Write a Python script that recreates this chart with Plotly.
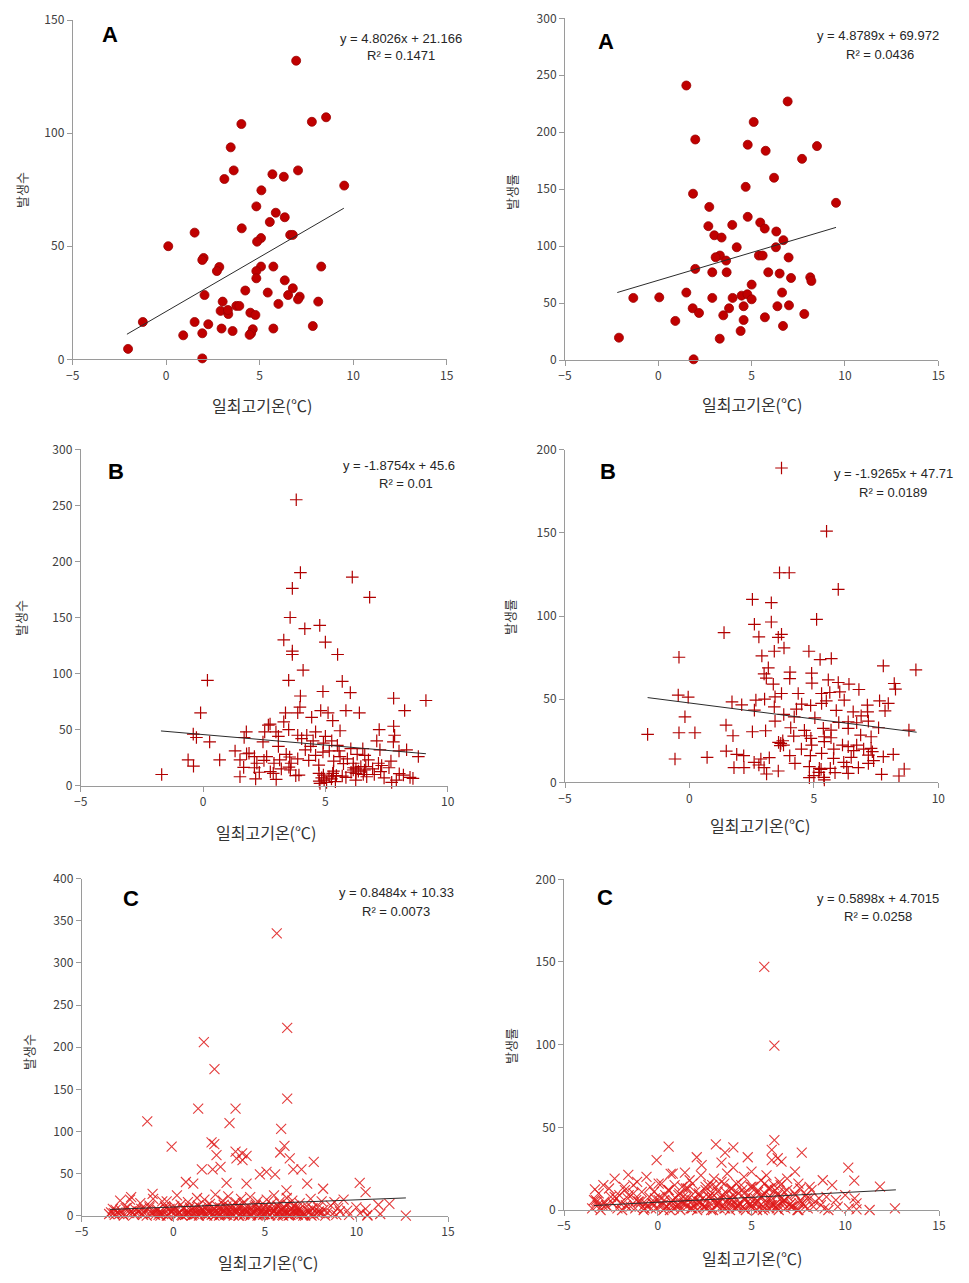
import plotly.graph_objects as go

W, H = 969, 1283

# ---------------- data ----------------
# Panel A (left): 발생수
a1_x = [6.95,4.02,7.79,8.55,3.45,3.61,7.05,3.11,5.68,6.29,9.52,5.09,4.82,5.86,5.54,6.34,4.04,1.52,6.63,6.77,
        0.11,5.07,4.86,2.0,1.93,2.84,2.71,5.07,4.82,5.73,8.29,4.82,6.34,4.23,5.43,6.77,6.52,2.05,7.14,7.05,
        6.0,8.13,3.02,3.75,3.91,2.91,3.32,3.30,4.5,4.77,-1.25,1.52,2.25,7.84,5.73,2.96,3.55,4.63,4.54,4.46,
        0.91,1.93,-2.04,1.93]
a1_y = [132,104,105,107,93.7,83.5,83.5,79.7,81.8,80.7,76.8,74.7,67.6,64.8,60.7,62.8,57.9,56,55,55,
        50,53.6,52,44.8,43.9,40.8,39,41,39,41,41,35.8,34.9,30.4,29.5,31.4,28.4,28.4,27.7,26.5,
        24.5,25.5,25.5,23.6,23.6,21.4,20,21.8,20.6,19.6,16.5,16.5,15.5,14.7,13.6,13.6,12.5,13.3,11.5,10.8,
        10.6,11.5,4.6,0.4]

# Panel A (right): 발생률
a2_x = [1.5,6.93,5.11,1.98,4.79,8.5,5.75,7.7,6.2,4.68,1.86,9.52,2.73,4.79,5.46,2.68,3.96,5.7,6.32,3.0,
        3.39,6.7,4.2,6.3,3.3,3.07,5.39,5.59,6.98,3.63,1.98,2.89,3.66,5.89,6.5,7.11,8.14,8.2,5.0,1.5,
        6.63,-1.34,0.05,2.89,3.98,4.46,4.77,5.0,4.57,6.38,7.0,1.84,2.18,3.79,3.48,7.82,5.71,0.91,4.57,6.68,
        4.41,-2.11,3.29,1.89]
a2_y = [241,227,209,193.6,189,187.8,183.7,176.6,160,152,146,138,134.4,125.7,120.7,117.5,118.6,115.4,112.8,109.5,
        107.5,105.2,99,99,91.7,90.2,91.7,91.7,90,87.3,80,77,77,77,75.9,72,72.6,69.4,66.2,59.2,
        59.2,54.5,55,54.5,54.5,56.5,57.7,53.3,47.2,47.2,48,45.4,41.3,45.4,39.2,40.4,37.5,34.3,35.1,29.9,
        25.5,19.6,18.7,0.6]

# Panel B (left): 발생수
b1_x = [3.81,3.98,6.10,3.65,6.81,3.56,4.16,4.77,3.30,3.65,3.65,5.0,5.50,4.09,0.18,3.50,5.69,3.98,4.90,6.02,
        7.79,9.11,-0.1,8.24,5.84,6.39,4.81,5.11,3.37,3.87,3.96,5.30,4.44,3.30,2.67,2.74,7.79,7.2,1.77,2.98,
        3.50,4.6,5.6,-0.4,-0.27,0.27,1.68,2.52,2.45,3.08,3.08,4.24,3.87,7.1,7.78,7.83,5.26,4.92,4.03,1.31,
        1.78,1.88,4.18,5.49,5.56,5.16,6.04,6.53,6.61,7.23,8.32,8.01,8.8,-0.61,0.68,-0.39,1.51,2.1,2.49,3.13,
        3.54,3.87,4.32,4.73,5.34,5.74,6.14,6.76,7.17,7.68,1.66,2.1,2.75,2.87,3.51,3.57,3.79,4.74,4.92,5.33,
        5.69,6.14,6.25,6.65,6.93,7.26,8.02,8.46,-1.69,1.51,2.15,2.99,3.92,4.78,5.41,5.84,6.24,6.69,7.71,8.58,
        8.19,4.75,4.85,4.95,5.05,5.15,5.25,5.3,5.45,6.05,6.15,6.25,6.35,6.45,6.55,6.6,2.2,2.3,2.6,2.9,
        3.2,3.4,3.6,7.0,7.4,7.6,7.9,7.3,4.4,4.6,4.9,5.0,4.5,5.6,5.9,6.3]
b1_y = [255,190,186,176,168,150,140,143,130,120,117,128,117,103,94,94,93,80,84,83,
        78,76,65,67,67,65,67,65,65,65,70,58,61,57,54,55,53,50,48,48,
        50,48,49,46,43,39,43,48,39,44,35,45,45,40,39,45,40,38,42,31,
        28.5,29,32,36,31,31,33,33,27,32,32,31,26,23,23,17.5,23,26,22.6,23,
        25.6,24,22.6,18.4,22,19.6,20,23,20,22,16.3,16,12.5,11,16.6,14,9,11,9.5,13,
        8.6,14,15,17,15,12.5,10.7,7.4,10,8,6,5.6,9.5,2,3.6,7.4,5,8,3,6.5,
        9.5,4,7,5,3,8,6,11,9,12,16,11,13,17,10,14,20,12,26,20,
        15,28,20,10,7,16,5,18,35,27,30,44,40,26,24,28]

# Panel B (right): 발생률
b2_x = [3.70,5.51,3.62,4.01,5.98,2.53,3.29,5.11,2.61,3.29,1.39,2.79,3.57,3.70,3.80,3.41,4.80,-0.42,2.91,5.25,
        5.70,7.79,9.1,3.17,3.0,4.04,4.91,3.09,4.03,4.92,5.58,5.98,6.41,6.81,8.23,8.28,3.37,3.70,4.37,3.44,
        5.31,5.64,6.04,-0.45,-0.05,1.71,2.1,2.67,3.02,2.61,4.51,4.87,5.31,6.22,7.15,7.64,7.99,7.86,5.90,6.58,
        7.16,3.41,3.79,4.21,5.04,-0.18,3.44,7.19,6.38,6.72,1.47,4.07,4.62,5.38,5.69,7.6,8.82,6.38,-1.68,-0.42,
        0.22,2.53,3.06,1.75,4.19,4.88,5.42,5.69,6.88,7.30,3.67,3.58,3.78,4.91,5.42,6.15,6.38,6.72,7.30,-0.58,
        0.71,1.48,1.90,2.18,2.87,3.21,4.03,4.86,5.31,5.79,7.19,7.79,8.19,7.35,1.79,2.19,3.0,3.57,4.82,5.22,
        5.29,5.85,6.32,6.79,7.19,7.72,8.63,8.42,4.82,5.42,6.38,2.79,5.66,4.24,5.0,5.2,5.4,6.2,6.5,6.6,
        3.65,3.75,4.5,4.7,7.0,7.4,2.6,3.1,5.8,6.0,4.3,5.5,6.9]
b2_y = [189,151,126,126,116,110,108,98,95,96.4,90,87.4,87.2,89,80.8,78.8,78.8,75.2,76,73.8,
        74.4,70,67.6,68.8,65.2,66.2,65.6,62.6,62.4,59.6,61.6,60,59,55.8,59.4,56,59,53.4,53.4,51.4,
        53.4,54,54.4,52.4,51.2,48.4,46.6,49.4,50,43.4,47,46.2,47.4,49.4,46.4,49,47.4,43,43.2,42.4,
        42.4,45.4,40.8,39.4,38.8,39.4,36.8,36.8,36.4,35.8,34.4,32.8,31.2,32.4,31.4,32.8,31.4,32.4,28.8,29.8,
        29.8,30.4,31,28,27.8,26.4,27.4,26.8,28.4,27.4,23.4,24,22.4,22.4,24.4,22.4,21.4,22.4,20.4,14,
        15,18.8,16.8,16,14,14.8,16,16,17.4,14.4,16.4,15.4,16.8,18.4,8.8,8.8,8.8,6.8,9.4,8.4,
        7.8,5.8,9.4,8.8,11.4,4.8,8,3.8,2.8,1.4,5.4,10.4,8.4,11.4,4,6,3,12,15,19,
        22,25,20,28,20,13,12,5,20,36,44,49,40]

# Panel C: shared x positions of the dense low-value cloud
c_blob_x = [-3.5,-3.2,-3.05,-2.7,-2.4,-2.15,-1.9,-1.7,-1.45,-1.2,-1.0,-0.75,-0.55,-0.3,-0.1,0.15,0.3,0.5,0.7,0.85,
            1.05,1.2,1.4,1.55,1.75,1.9,2.1,2.25,2.45,2.6,2.8,2.95,3.15,3.3,3.5,3.65,3.85,4.0,4.2,4.35,
            4.55,4.7,4.9,5.05,5.25,5.4,5.6,5.75,5.95,6.1,6.3,6.45,6.65,6.8,7.0,7.2,7.45,7.7,8.0,8.3,
            8.7,9.1,9.6,10.2,10.6,11.3,
            -3.3,-2.85,-2.5,-2.05,-1.6,-1.3,-0.9,-0.45,-0.2,0.05,0.4,0.6,0.95,1.15,1.35,1.6,1.85,2.0,2.2,2.4,
            2.55,2.75,2.9,3.1,3.25,3.45,3.6,3.8,3.95,4.1,4.3,4.5,4.65,4.85,5.0,5.2,5.35,5.55,5.7,5.9,
            6.05,6.25,6.4,6.6,6.75,6.95,7.3,7.6,7.9,8.2,8.6,9.0,9.5,10.0,10.5,
            -2.9,-2.3,-1.8,-1.1,-0.6,0.2,0.8,1.3,1.7,2.3,2.7,3.0,3.4,3.7,4.2,4.6,5.1,5.5,5.8,6.2,
            6.5,6.9,7.5,8.1,8.8,9.3,
            -0.8,-0.35,0.25,0.65,1.0,1.45,1.8,2.15,2.5,2.85,3.2,3.55,3.9,4.25,4.6,4.95,5.3,5.65,6.0,6.35,
            6.7,7.1,7.5,7.85,
            -3.4,-3.15,-2.95,-2.6,-2.3,-2.0,-1.75,-1.55,-1.3,-1.05,-0.85,-0.65,-0.4,-0.15,0.05,0.35,0.55,0.75,0.9,1.1,
            1.3,1.5,1.65,1.85,2.05,2.2,2.35,2.55,2.7,2.9,3.05,3.2,3.4,3.55,3.75,3.9,4.05,4.25,4.45,4.6,
            4.8,4.95,5.15,5.35,5.5,5.7,5.85,6.0,6.2,6.4,6.55,6.75,6.9,7.1,7.35,7.6,7.95,8.4,
            -3.25,-2.75,-2.2,-1.65,-1.15,-0.7,-0.25,0.1,0.45,0.8,1.15,1.5,1.85,2.2,2.55,2.9,3.25,3.6,3.95,4.3,
            4.65,5.0,5.35,5.7,6.05,6.4,6.75,7.15,7.55,8.1,8.9]

# Panel C (left): 발생수
c1_out_x = [5.65,6.22,1.67,2.25,6.22,1.36,3.4,-1.42,3.07,5.89,-0.09,2.09,2.24,6.07,5.84,3.4,3.76,4.0,3.45,2.36,
            3.78,6.36,7.67,1.56,2.15,2.58,4.73,5.09,5.56,6.55,7.0,10.18,0.69,1.09,2.91,4.0,7.31,8.18,6.18,10.5,
            -1.13,-2.36,-0.36,11.8,11.2,12.7,10.6]
c1_out_y = [335,223,206,174,139,127,127,112,110,103,82,87,85,83,75,76,74,71,68,72,
            66,68,64,55,55,58,49,52,49,55,55,39,40,38,39,38,38,32,30,28,
            26,19,17,14,13,0,1]
c1_blob_y = [2,1,4,0,3,1,5,2,0,3,1,4,2,0,5,1,3,0,2,4,
             1,6,0,3,2,5,1,0,4,2,6,1,3,0,5,2,1,4,0,3,
             6,2,1,5,0,3,2,4,1,6,0,3,5,1,2,0,4,1,3,0,
             2,5,1,3,0,2,
             8,6,10,7,9,12,6,11,8,7,13,9,6,10,12,8,7,14,9,11,
             6,13,8,10,12,7,9,15,6,11,8,13,10,7,12,9,14,6,11,8,
             10,13,7,12,9,6,11,8,10,7,12,9,6,10,8,
             18,22,15,20,17,24,16,21,19,25,18,23,16,20,22,17,19,24,16,21,
             18,15,20,17,16,19,
             1,0,2,1,0,3,1,2,0,1,3,0,2,1,0,2,1,3,0,1,
             2,0,1,3,
             4,7,2,9,5,3,8,6,10,4,7,3,9,5,11,4,8,2,10,6,
             3,9,5,12,4,7,2,10,6,11,3,8,5,12,4,9,6,2,11,7,
             4,10,3,8,6,12,5,9,2,7,11,4,8,3,6,9,5,4,
             3,2,4,1,3,0,2,4,1,3,2,5,0,3,1,4,2,0,3,5,
             1,2,4,0,3,1,5,2,0,3,1]

# Panel C (right): 발생률
c2_out_x = [5.68,6.22,6.22,3.1,0.58,4.03,7.68,3.59,6.08,-0.06,2.08,4.8,3.4,6.08,6.4,6.6,10.16,2.34,4.03,-1.57,
            0.69,1.45,5.0,7.32,10.48,-3.35,11.85,12.65,10.6]
c2_out_y = [147,99.4,42.3,39.7,38.3,37.9,34.7,34.7,36.3,30.2,31.9,31.9,28.6,30.2,31.3,29.2,25.6,27.2,25.6,21.2,
            21.8,22.6,23.2,23.2,17.7,12.5,14.1,1,0.4]
c2_blob_y = [1,3,0,2,4,1,0,3,2,1,5,0,2,4,1,3,0,2,5,1,
             3,0,4,2,1,3,0,5,2,1,4,0,3,1,2,5,0,3,1,4,
             2,0,3,1,5,2,0,4,1,3,2,0,5,1,3,2,0,4,1,2,
             3,0,2,1,4,0,
             6,5,8,9,7,10,5,8,11,6,9,12,7,10,8,13,6,11,9,7,
             12,8,10,14,6,9,11,7,13,8,10,12,6,9,14,7,11,8,10,13,
             6,12,9,7,11,8,10,6,9,12,7,8,6,9,7,
             15,19,14,17,20,16,22,14,18,21,15,19,17,22,16,20,14,18,21,15,
             17,19,16,14,18,15,
             2,1,3,0,2,4,1,3,2,0,4,1,3,2,1,4,0,2,3,1,
             4,2,0,2,
             6,10,3,13,8,4,12,9,15,5,11,4,14,7,16,6,12,3,15,9,
             4,13,7,16,6,10,3,14,8,15,5,11,7,16,6,13,9,3,15,10,
             5,14,4,12,8,16,7,13,3,10,15,6,12,4,9,13,7,5,
             5,3,7,2,6,1,4,8,2,6,3,7,1,5,2,8,4,1,6,3,
             7,2,5,1,8,3,6,2,4,7,1]

# trendlines (from the printed equations) and their x extent
slopes = [4.8026, 4.8789, -1.8754, -1.9265, 0.8484, 0.5898]
intercepts = [21.166, 69.972, 45.6, 47.71, 10.33, 4.7015]
trend_x0 = [-2.1, -2.2, -1.72, -1.68, -3.45, -3.4]
trend_x1 = [9.5, 9.52, 9.11, 9.13, 12.7, 12.7]
eq_text = ["y = 4.8026x + 21.166", "y = 4.8789x + 69.972", "y = -1.8754x + 45.6",
           "y = -1.9265x + 47.71", "y = 0.8484x + 10.33", "y = 0.5898x + 4.7015"]
r2_text = ["R² = 0.1471", "R² = 0.0436", "R² = 0.01", "R² = 0.0189", "R² = 0.0073", "R² = 0.0258"]
panel_letters = ["A", "A", "B", "B", "C", "C"]
y_titles = ["발생수", "발생률", "발생수", "발생률", "발생수", "발생률"]
x_title = "일최고기온(℃)"
x_ranges = [[-5, 15], [-5, 15], [-5, 10], [-5, 10], [-5, 15], [-5, 15]]
y_ranges = [[0, 150], [0, 300], [0, 300], [0, 200], [0, 400], [0, 200]]

# ---------------- layout geometry (page pixels) ----------------
OFF = 8  # default page body margin
boxes = [(72.7, 446.7, 20.0, 359.3), (565.0, 938.3, 18.3, 360.0),
         (80.7, 447.7, 449.3, 785.7), (565.0, 938.3, 449.7, 782.3),
         (81.7, 448.0, 878.7, 1215.7), (564.0, 939.0, 879.3, 1210.0)]
letter_pos = [(110, 34), (606, 41), (116, 471), (608, 471), (131, 898), (605, 897)]
eq_pos = [(401, 38), (878, 36), (399, 466), (893, 474), (396, 892), (878, 898)]
r2_pos = [(401, 56), (880, 54), (406, 483), (893, 492), (396, 911), (878, 916)]
ytitle_pos = [(22, 190), (511, 192), (20, 618), (509, 617), (28, 1052), (510, 1046)]
xtitle_pos = [(262, 405), (752, 404), (266, 832), (760, 825), (268, 1262), (752, 1258)]

datasets = [(a1_x, a1_y), (a2_x, a2_y), (b1_x, b1_y), (b2_x, b2_y),
            (c1_out_x + c_blob_x, c1_out_y + c1_blob_y),
            (c2_out_x + c_blob_x, c2_out_y + c2_blob_y)]

def px(x):
    return (x - OFF) / W

def py(y):
    return 1 - (y - OFF) / H

TICK_FONT = dict(family="Noto Sans CJK KR, Liberation Sans, sans-serif", size=12, color="#404040")
AX_COLOR = "#9a9a9a"

fig = go.Figure()
layout = dict(width=W, height=H, margin=dict(l=0, r=0, t=0, b=0, pad=0, autoexpand=False),
              paper_bgcolor="white", plot_bgcolor="white", showlegend=False,
              annotations=[])

for i in range(6):
    n = i + 1
    xa = "x" if n == 1 else f"x{n}"
    ya = "y" if n == 1 else f"y{n}"
    L, R, T, B = boxes[i]
    layout["xaxis" if n == 1 else f"xaxis{n}"] = dict(
        domain=[px(L), px(R)], range=x_ranges[i], anchor=ya, dtick=5, tick0=-5,
        showgrid=False, zeroline=False, showline=True, linecolor=AX_COLOR, linewidth=1,
        ticks="outside", ticklen=5, tickcolor=AX_COLOR, tickfont=TICK_FONT, fixedrange=True,
        automargin=False)
    layout["yaxis" if n == 1 else f"yaxis{n}"] = dict(
        domain=[py(B), py(T)], range=y_ranges[i], anchor=xa, dtick=50, tick0=0,
        showgrid=False, zeroline=False, showline=True, linecolor=AX_COLOR, linewidth=1,
        ticks="outside", ticklen=5, tickcolor=AX_COLOR, tickfont=TICK_FONT, fixedrange=True,
        automargin=False)

    dx, dy = datasets[i]
    if i < 2:
        marker = dict(symbol="circle", size=9, color="#C00000",
                      line=dict(color="#9a0000", width=0.8))
    elif i < 4:
        marker = dict(symbol="cross-thin", size=9, color="#B00000",
                      line=dict(color="#B00000", width=1.2))
    else:
        marker = dict(symbol="x-thin", size=10, color="rgba(222,25,25,0.85)",
                      line=dict(color="rgba(222,25,25,0.85)", width=1.1))
    fig.add_trace(go.Scatter(x=dx, y=dy, mode="markers", marker=marker,
                             xaxis=xa, yaxis=ya, cliponaxis=False, hoverinfo="x+y"))
    tx = [trend_x0[i], trend_x1[i]]
    ty = [slopes[i] * v + intercepts[i] for v in tx]
    fig.add_trace(go.Scatter(x=tx, y=ty, mode="lines", line=dict(color="#2b2b2b", width=1),
                             xaxis=xa, yaxis=ya, hoverinfo="skip"))

    ann = layout["annotations"]
    lx, ly = letter_pos[i]
    ann.append(dict(x=px(lx), y=py(ly), xref="paper", yref="paper", text=f"<b>{panel_letters[i]}</b>",
                    showarrow=False, xanchor="center", yanchor="middle",
                    font=dict(family="Liberation Sans, Arial, sans-serif", size=22, color="black")))
    ex, ey = eq_pos[i]
    ann.append(dict(x=px(ex), y=py(ey), xref="paper", yref="paper", text=eq_text[i],
                    showarrow=False, xanchor="center", yanchor="middle",
                    font=dict(family="Liberation Sans, Arial, sans-serif", size=13, color="#262626")))
    rx, ry = r2_pos[i]
    ann.append(dict(x=px(rx), y=py(ry), xref="paper", yref="paper", text=r2_text[i],
                    showarrow=False, xanchor="center", yanchor="middle",
                    font=dict(family="Liberation Sans, Arial, sans-serif", size=13, color="#262626")))
    tx_, ty_ = ytitle_pos[i]
    ann.append(dict(x=px(tx_), y=py(ty_), xref="paper", yref="paper", text=y_titles[i],
                    showarrow=False, xanchor="center", yanchor="middle", textangle=-90,
                    font=dict(family="Noto Sans CJK KR, sans-serif", size=13, color="#404040")))
    xx, xy = xtitle_pos[i]
    ann.append(dict(x=px(xx), y=py(xy), xref="paper", yref="paper", text=x_title,
                    showarrow=False, xanchor="center", yanchor="middle",
                    font=dict(family="Noto Sans CJK KR, sans-serif", size=16, color="#333")))

fig.update_layout(**layout)
fig.write_html("out.html")
